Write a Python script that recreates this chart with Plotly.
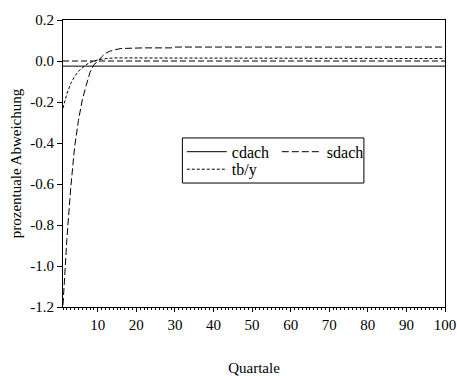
import plotly.graph_objects as go

quarters = list(range(1, 101))

cdach = [-0.025] * 100

sdach_head = [-1.19, -0.87, -0.62, -0.42, -0.29, -0.19, -0.12, -0.055, -0.018, -0.002,
              0.02, 0.037, 0.047, 0.053, 0.057, 0.061, 0.062, 0.063, 0.064, 0.064,
              0.064, 0.064, 0.064, 0.064, 0.064, 0.064, 0.064, 0.064, 0.064]
sdach = sdach_head + [0.068] * (100 - len(sdach_head))

tby_head = [-0.23, -0.16, -0.11, -0.075, -0.05, -0.032, -0.018, -0.007, 0.0, 0.005,
            0.009, 0.012, 0.014, 0.015, 0.015, 0.015, 0.014, 0.014, 0.013, 0.013]
tby = tby_head + [0.012] * (100 - len(tby_head))

y_ticks = [0.2, 0.0, -0.2, -0.4, -0.6, -0.8, -1.0, -1.2]
y_labels = ["0.2", "0.0", "-0.2", "-0.4", "-0.6", "-0.8", "-1.0", "-1.2"]
x_ticks = [10, 20, 30, 40, 50, 60, 70, 80, 90, 100]

font = "Liberation Serif"

fig = go.Figure()
fig.add_trace(go.Scatter(x=quarters, y=cdach, mode="lines", name="cdach",
                         line=dict(color="black", width=1), legend="legend"))
fig.add_trace(go.Scatter(x=quarters, y=sdach, mode="lines", name="sdach",
                         line=dict(color="black", width=1, dash="7px,3px"), legend="legend"))
fig.add_trace(go.Scatter(x=quarters, y=tby, mode="lines", name="tb/y",
                         line=dict(color="black", width=1, dash="3px,2px"), legend="legend2"))

# zero reference line
fig.add_shape(type="line", xref="paper", yref="y", x0=0, x1=1, y0=0, y1=0,
              line=dict(color="black", width=1, dash="6px,3px"))
# legend frame
fig.add_shape(type="rect", xref="paper", yref="paper",
              x0=0.3125, x1=0.7877, y0=0.432, y1=0.589,
              line=dict(color="black", width=1), fillcolor="rgba(0,0,0,0)", layer="above")

leg_common = dict(orientation="h", xanchor="left", yanchor="top",
                  borderwidth=0, bgcolor="rgba(0,0,0,0)",
                  entrywidth=40, entrywidthmode="pixels", itemwidth=40,
                  font=dict(family=font, size=16))

fig.update_layout(
    template="none",
    width=457, height=376,
    margin=dict(l=63, r=12, t=20, b=69),
    paper_bgcolor="white", plot_bgcolor="white",
    font=dict(family=font, size=15, color="black"),
    showlegend=True,
    legend=dict(x=0.311, y=0.600, **leg_common),
    legend2=dict(x=0.311, y=0.539, **leg_common),
    xaxis=dict(range=[1, 100], tickmode="array", tickvals=x_ticks, automargin=False,
               ticks="outside", ticklen=4, tickcolor="black",
               showgrid=False, zeroline=False, showline=True, linecolor="black",
               linewidth=1, mirror=True,
               minor=dict(dtick=1, ticks="outside", ticklen=2, tickcolor="black",
                          showgrid=False),
               tickfont=dict(family=font, size=15),
               title=dict(text="Quartale", standoff=36, font=dict(family=font, size=15))),
    yaxis=dict(range=[-1.2, 0.2], tickmode="array", tickvals=y_ticks, ticktext=y_labels,
               automargin=False,
               ticks="outside", ticklen=5, tickcolor="black",
               showgrid=False, zeroline=False, showline=True, linecolor="black",
               linewidth=1, mirror=True,
               tickfont=dict(family=font, size=15),
               title=dict(text="prozentuale Abweichung", standoff=5,
                          font=dict(family=font, size=15))),
)

fig.write_html("out.html", config={"displayModeBar": False},
               post_script="document.body.style.margin='0';")
